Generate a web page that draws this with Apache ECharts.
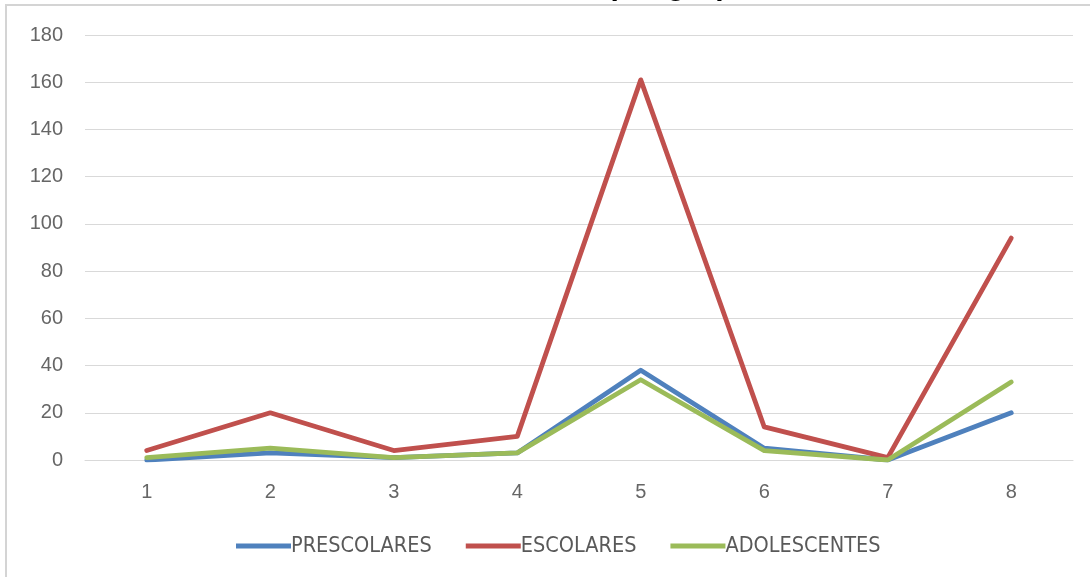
<!DOCTYPE html>
<html>
<head>
<meta charset="utf-8">
<script src="https://cdn.jsdelivr.net/npm/echarts@6/dist/echarts.min.js"></script>
<style>
  html, body { margin: 0; padding: 0; background: #ffffff; }
  #chart { width: 1090px; height: 577px; }
</style>
</head>
<body>
<div id="chart"></div>
<script>
// Categories along the x axis
const categories = ['1', '2', '3', '4', '5', '6', '7', '8'];

// Series values per group
const seriesNames = ['PRESCOLARES', 'ESCOLARES', 'ADOLESCENTES'];
const prescolares = [0, 3, 1, 3, 38, 5, 0, 20];
const escolares = [4, 20, 4, 10, 161, 14, 1, 94];
const adolescentes = [1, 5, 1, 3, 34, 4, 0, 33];

// Y axis range and step
const yMin = 0;
const yMax = 180;
const yStep = 20;

const colors = ['#4F81BD', '#C0504D', '#9BBB59'];
const titleText = 'Casos por grupo de edad';

const chart = echarts.init(document.getElementById('chart'), null, { renderer: 'canvas' });

function lineSeries(name, data, color) {
  return {
    name: name,
    type: 'line',
    data: data,
    symbol: 'none',
    smooth: false,
    lineStyle: { color: color, width: 4.8, cap: 'round', join: 'round' },
    itemStyle: { color: color },
    emphasis: { disabled: true },
    animation: false
  };
}

chart.setOption({
  backgroundColor: '#ffffff',
  animation: false,
  color: colors,
  graphic: [
    {
      // chart frame
      type: 'rect',
      shape: { x: 6, y: 5, width: 1120, height: 600 },
      style: { fill: 'none', stroke: '#d4d4d4', lineWidth: 2 },
      silent: true,
      z: -1
    },
    {
      // title, sitting above the frame
      type: 'text',
      x: 512,
      y: -13,
      style: {
        text: titleText,
        font: 'bold 30px "Liberation Sans", Arial, sans-serif',
        fill: '#000000',
        verticalAlign: 'middle',
        align: 'left'
      },
      silent: true,
      z: 10
    }
  ],
  grid: { left: 85, right: 17, top: 35, bottom: 117, containLabel: false },
  legend: {
    data: seriesNames,
    bottom: 20,
    left: 236,
    padding: 0,
    icon: 'rect',
    itemWidth: 55,
    itemHeight: 5,
    itemGap: 34,
    selectedMode: false,
    textStyle: {
      fontFamily: '"Liberation Sans Narrow", "DejaVu Sans Condensed", sans-serif',
      fontSize: 21.5,
      color: '#595959',
      padding: [0, 0, 0, -5]
    }
  },
  xAxis: {
    type: 'category',
    data: categories,
    boundaryGap: true,
    axisLine: { show: true, lineStyle: { color: '#d9d9d9', width: 1 } },
    axisTick: { show: false },
    axisLabel: {
      margin: 22,
      fontFamily: '"Liberation Sans", Arial, sans-serif',
      fontSize: 20,
      color: '#666666'
    },
    splitLine: { show: false }
  },
  yAxis: {
    type: 'value',
    min: yMin,
    max: yMax,
    interval: yStep,
    axisLine: { show: false },
    axisTick: { show: false },
    axisLabel: {
      margin: 22,
      fontFamily: '"Liberation Sans", Arial, sans-serif',
      fontSize: 20,
      color: '#666666'
    },
    splitLine: { show: true, lineStyle: { color: '#d9d9d9', width: 1 } }
  },
  series: [
    lineSeries(seriesNames[0], prescolares, colors[0]),
    lineSeries(seriesNames[1], escolares, colors[1]),
    lineSeries(seriesNames[2], adolescentes, colors[2])
  ]
});
</script>
</body>
</html>
